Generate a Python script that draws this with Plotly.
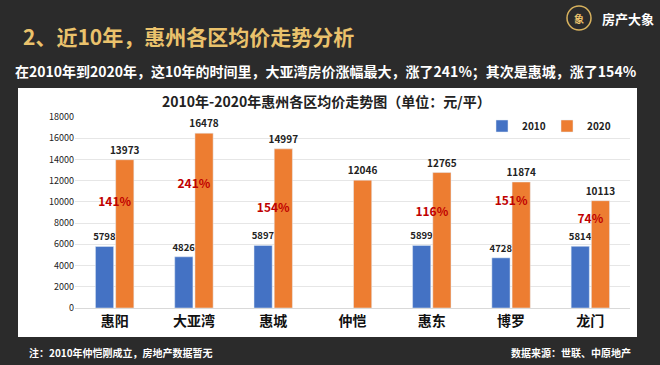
import plotly.graph_objects as go

districts = ["惠阳", "大亚湾", "惠城", "仲恺", "惠东", "博罗", "龙门"]
price_2010 = [5798, 4826, 5897, None, 5899, 4728, 5814]
price_2020 = [13973, 16478, 14997, 12046, 12765, 11874, 10113]
growth_labels = ["141%", "241%", "154%", "", "116%", "151%", "74%"]
growth_label_y = [9900, 11600, 9330, None, 8950, 9990, 8290]
y_ticks = list(range(0, 18001, 2000))

W, H = 660, 365
L, R, T, B = 75, 30, 117, 57
PW, PH = W - L - R, H - T - B

def px(x, y):
    return (x - L) / PW, (H - B - y) / PH

FONT = "Noto Sans CJK SC"
BLUE = "#4472C4"
ORANGE = "#ED7D31"

fig = go.Figure()
fig.add_trace(go.Bar(
    name="<b>2010</b>", x=districts, y=price_2010, marker_color=BLUE,
    text=[("" if v is None else "<b>%d</b>" % v) for v in price_2010],
    textposition="outside", constraintext="none",
    textfont=dict(color="#222222", size=9.5, family=FONT),
    cliponaxis=False,
))
fig.add_trace(go.Bar(
    name="<b>2020</b>", x=districts, y=price_2020, marker_color=ORANGE,
    text=["<b>%d</b>" % v for v in price_2020],
    textposition="outside", constraintext="none",
    textfont=dict(color="#222222", size=10, family=FONT),
    cliponaxis=False,
))
fig.add_trace(go.Scatter(
    x=districts, y=growth_label_y, mode="text",
    text=[("<b>%s</b>" % t) if t else "" for t in growth_labels],
    textfont=dict(color="#C00000", size=12, family=FONT), showlegend=False,
    hoverinfo="skip", cliponaxis=False,
))

shapes = []
x0, y0 = px(18, 337)
x1, y1 = px(637, 88)
shapes.append(dict(type="rect", xref="paper", yref="paper", x0=x0, y0=y0, x1=x1, y1=y1,
                   fillcolor="white", line=dict(width=0), layer="below"))

annotations = []
def add_text(x, y, text, size, color, xanchor="left", bold=True):
    ax, ay = px(x, y)
    annotations.append(dict(xref="paper", yref="paper", x=ax, y=ay, text=("<b>%s</b>" % text) if bold else text,
                            showarrow=False, xanchor=xanchor, yanchor="middle",
                            font=dict(size=size, color=color, family=FONT)))

add_text(21, 36, "2、近10年，惠州各区均价走势分析", 21, "#EAC26C")
add_text(13, 71, "在2010年到2020年，这10年的时间里，大亚湾房价涨幅最大，涨了241%；其次是惠城，涨了154%", 14, "#FFFFFF")
add_text(326, 101, "2010年-2020年惠州各区均价走势图（单位：元/平）", 14, "#222222", xanchor="center")
add_text(27, 352, "注：2010年仲恺刚成立，房地产数据暂无", 10, "#FFFFFF")
add_text(633, 352, "数据来源：世联、中原地产", 10, "#FFFFFF", xanchor="right")
add_text(656, 18, "房产大象", 13, "#FFFFFF", xanchor="right")
cx2, cy2 = px(591, 6)
cx3, cy3 = px(567, 30)
shapes.append(dict(type="circle", xref="paper", yref="paper", x0=cx3, y0=cy3, x1=cx2, y1=cy2,
                   line=dict(color="#D8B25E", width=1.5), fillcolor="#2B2B2B"))
add_text(579, 18, "象", 10, "#EAC26C", xanchor="center")

lx, ly = px(482, 126)
fig.update_layout(
    width=W, height=H,
    margin=dict(l=L, r=R, t=T, b=B, autoexpand=False),
    paper_bgcolor="#2B2B2B", plot_bgcolor="white",
    barmode="group", bargap=0.49, bargroupgap=0.1,
    font=dict(family=FONT),
    showlegend=True,
    legend=dict(orientation="h", x=lx, y=ly, xanchor="left", yanchor="middle",
                bgcolor="rgba(0,0,0,0)", font=dict(size=10, color="#222222", family=FONT),
                itemwidth=30, traceorder="normal", entrywidth=20),
    shapes=shapes, annotations=annotations,
    xaxis=dict(showgrid=False, showline=True, linecolor="#D9D9D9", ticks="",
               tickfont=dict(size=14, color="#111111", family=FONT),
               tickprefix="<b>", ticksuffix="</b>"),
    yaxis=dict(range=[0, 18000], tickvals=y_ticks, tickformat="d", showgrid=True, gridcolor="#E6E6E6",
               zeroline=False, showline=False, ticks="",
               tickfont=dict(size=9, color="#222222", family=FONT),
               tickprefix="<b>", ticksuffix="</b>"),
)
fig.write_html("out.html", config={"displayModeBar": False},
               post_script="document.body.style.margin='0';document.body.style.padding='0';document.documentElement.style.overflow='hidden';")
